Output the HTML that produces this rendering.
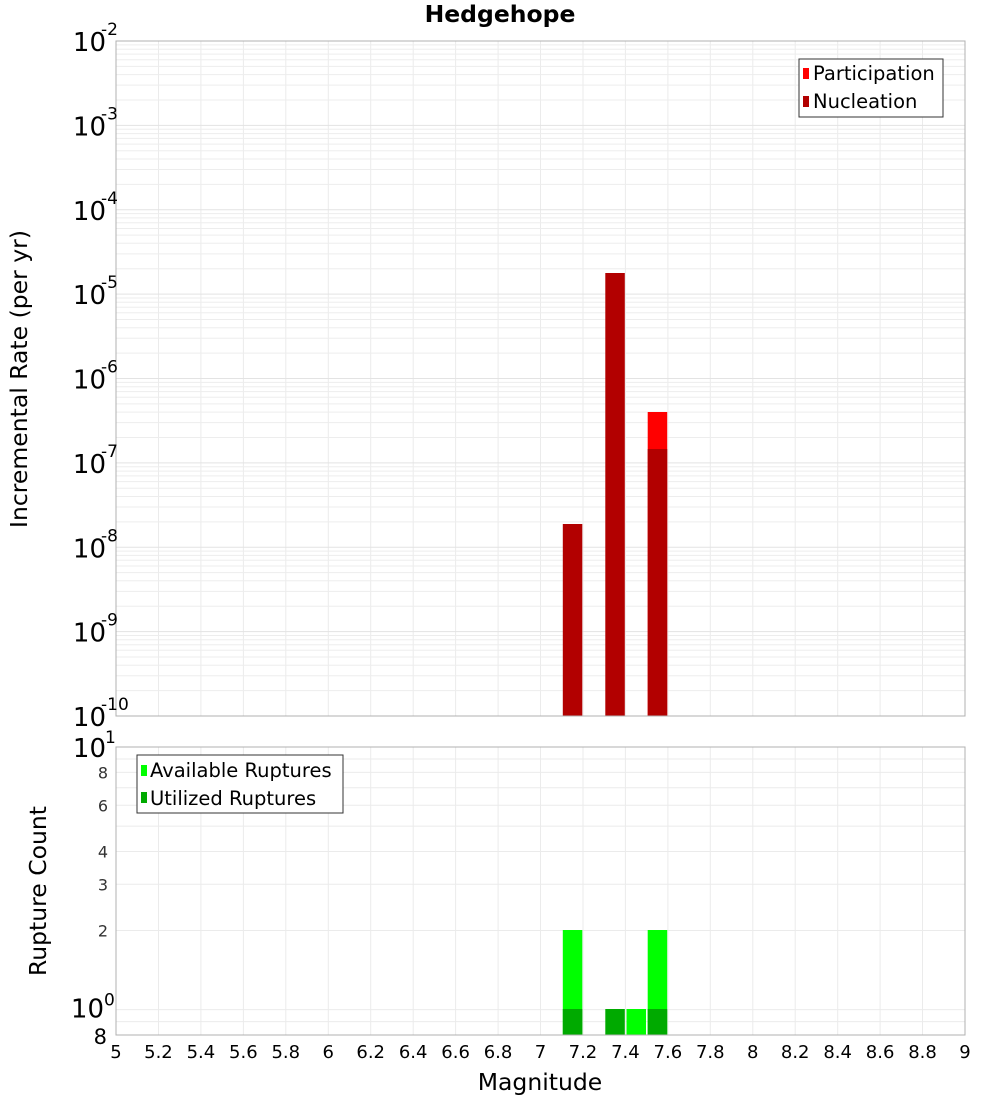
<!DOCTYPE html>
<html><head><meta charset="utf-8"><style>body{margin:0;background:#fff}svg{display:block}</style></head>
<body><svg id="s" width="1000" height="1100" xmlns="http://www.w3.org/2000/svg" font-family="DejaVu Sans, sans-serif"></svg>
<script>
const s=document.getElementById('s');let h='';
const X=v=>116+(v-5)*212.25;
const T1=41,B1=716,pd=84.375;const Y1=e=>T1+(-2-e)*pd;
const T2=747,B2=1035,pd2=262.6;const Y2=v=>T2+(1-Math.log10(v))*pd2;
h+=`<rect x="116" y="${T1}" width="849" height="675" fill="#fff"/>`;
h+=`<rect x="116" y="${T2}" width="849" height="288" fill="#fff"/>`;
for(let m=5.2;m<9;m+=0.2){const x=X(m).toFixed(1);h+=`<line x1="${x}" x2="${x}" y1="${T1}" y2="${B1}" stroke="#ebebeb"/><line x1="${x}" x2="${x}" y1="${T2}" y2="${B2}" stroke="#ebebeb"/>`;}
for(let e=-10;e<-2;e++)for(let k=1;k<10;k++){const y=Y1(e+Math.log10(k)).toFixed(1);h+=`<line x1="116" x2="965" y1="${y}" y2="${y}" stroke="${k==1?'#e3e3e3':'#ededed'}"/>`;}
[0.8,0.9,1,2,3,4,5,6,7,8,9].forEach(v=>{const y=Y2(v).toFixed(1);h+=`<line x1="116" x2="965" y1="${y}" y2="${y}" stroke="#ebebeb"/>`;});
const bar=(c,top,bot,col)=>{h+=`<rect x="${(X(c)-9.5).toFixed(1)}" y="${top}" width="19.5" height="${bot-top}" fill="${col}"/>`};
bar(7.15,524,B1,'#b20000');bar(7.35,273,B1,'#b20000');bar(7.55,412,B1,'#ff0000');bar(7.55,449,B1,'#b20000');
bar(7.15,930,B2,'#00ff00');bar(7.55,930,B2,'#00ff00');bar(7.45,1009,B2,'#00ff00');
bar(7.15,1009,B2,'#00aa00');bar(7.35,1009,B2,'#00aa00');bar(7.55,1009,B2,'#00aa00');
h+=`<rect x="116" y="${T1}" width="849" height="675" fill="none" stroke="#b0b0b0"/>`;
h+=`<rect x="116" y="${T2}" width="849" height="288" fill="none" stroke="#b0b0b0"/>`;
for(let e=-2;e>=-10;e--){const y=Y1(e);h+=`<text x="106" y="${y+10}" font-size="26" text-anchor="end">10</text><text x="101" y="${y-6}" font-size="17">${e}</text>`;}
h+=`<text x="106" y="${T2+10}" font-size="26" text-anchor="end">10</text><text x="105" y="${T2-4}" font-size="17">1</text>`;
h+=`<text x="104" y="${Y2(1)+8}" font-size="26" text-anchor="end">10</text><text x="104" y="${Y2(1)-4}" font-size="17">0</text>`;
h+=`<text x="107" y="${B2+9}" font-size="21" text-anchor="end">8</text>`;
[2,3,4,6,8].forEach(v=>{h+=`<text x="108" y="${Y2(v)+6}" font-size="16" text-anchor="end" fill="#333">${v}</text>`});
for(let i=0;i<=20;i++){const m=5+i*0.2;let t=(Math.round(m*10)/10).toString();h+=`<text x="${X(m)}" y="1058" font-size="18" text-anchor="middle">${t}</text>`;}
h+=`<text x="540" y="1090" font-size="23.5" text-anchor="middle">Magnitude</text>`;
h+=`<text x="500" y="22" font-size="23.5" font-weight="bold" text-anchor="middle">Hedgehope</text>`;
h+=`<text transform="translate(27,379) rotate(-90)" font-size="23.5" text-anchor="middle">Incremental Rate (per yr)</text>`;
h+=`<text transform="translate(46,891) rotate(-90)" font-size="23.5" text-anchor="middle">Rupture Count</text>`;
h+=`<rect x="799" y="59" width="144" height="58" fill="#fff" stroke="#333"/><rect x="803" y="68" width="6" height="11" fill="#ff0000"/><text x="813" y="80" font-size="19.5">Participation</text><rect x="803" y="96" width="6" height="11" fill="#b20000"/><text x="813" y="108" font-size="19.5">Nucleation</text>`;
h+=`<rect x="137" y="755" width="206" height="58" fill="#fff" stroke="#333"/><rect x="141" y="765" width="6" height="11" fill="#00ff00"/><text x="150" y="777" font-size="19.5">Available Ruptures</text><rect x="141" y="792" width="6" height="11" fill="#00aa00"/><text x="150" y="805" font-size="19.5">Utilized Ruptures</text>`;
s.innerHTML=h;
</script></body></html>
